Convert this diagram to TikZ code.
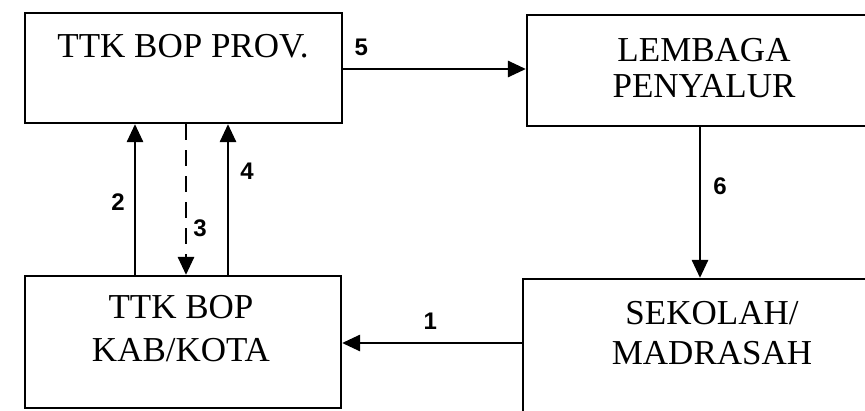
\documentclass[tikz,border=0pt]{standalone}
\usepackage{fontspec}
\setmainfont{Liberation Serif}
\newfontfamily\numfont{Liberation Sans}
\usetikzlibrary{arrows.meta}

\begin{document}
\begin{tikzpicture}[x=1pt, y=-1pt,
  box/.style={draw=black, line width=2.2pt, inner sep=0pt},
  txt/.style={align=center, inner sep=0pt, font=\fontsize{35}{#1}\selectfont},
  num/.style={inner sep=0pt, font=\numfont\bfseries\fontsize{24}{26}\selectfont},
  arr/.style={-{Triangle[length=18pt,width=16pt]}, line width=2.8pt}]
  \clip (0,0) rectangle (865,410);
  % boxes
  \node[box, minimum width=317pt, minimum height=110pt] (prov) at (183.5,68) {};
  \node[box, minimum width=373pt, minimum height=111pt] (lemb) at (713.5,70.5) {};
  \node[box, minimum width=316pt, minimum height=132pt] (kab) at (183,342) {};
  \node[box, minimum width=377pt, minimum height=151pt] (sek) at (711.5,354.5) {};
  % box texts
  \node[txt=36] (prov-t) at (183,46) {TTK BOP PROV.};
  \node[txt=36] (lemb-t) at (704,68) {LEMBAGA\\PENYALUR};
  \node[txt=43] (kab-t) at (181,329) {TTK BOP\\KAB/KOTA};
  \node[txt=40] (sek-t) at (712,333.5) {SEKOLAH/\\MADRASAH};
  % flows
  \draw[arr] ([yshift=-1pt]prov.east) -- node[num, pos=0.1, above=12pt] {5}
    ([yshift=-1pt]prov.east -| lemb.west);
  \draw[arr] ([xshift=-13.5pt]lemb.south) -- node[num, pos=0.39, right=12pt] {6}
    ([xshift=-13.5pt]lemb.south |- sek.north);
  \draw[arr] ([yshift=11.5pt]sek.west) -- node[num, pos=0.51, above=12pt] {1}
    ([yshift=11.5pt]sek.west -| kab.east);
  \draw[arr] ([xshift=-48pt]kab.north) -- node[num, pos=0.48, left=9pt] {2}
    ([xshift=-48pt]kab.north |- prov.south);
  \draw[arr, dash pattern=on 16pt off 10pt] ([xshift=2.5pt]prov.south) -- node[num, pos=0.69, right=6pt] {3}
    ([xshift=2.5pt]prov.south |- kab.north);
  \draw[arr] ([xshift=45pt]kab.north) -- node[num, pos=0.69, right=11pt] {4}
    ([xshift=45pt]kab.north |- prov.south);
\end{tikzpicture}
\end{document}
